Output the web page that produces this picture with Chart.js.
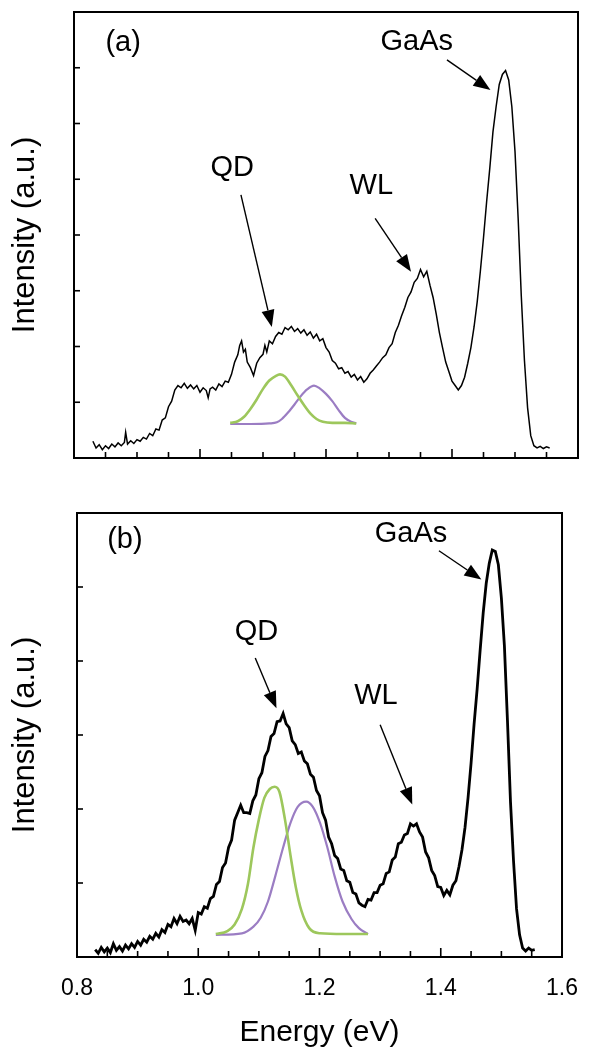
<!DOCTYPE html>
<html>
<head>
<meta charset="utf-8">
<script src="https://cdn.jsdelivr.net/npm/chart.js@4.4.0/dist/chart.umd.min.js"></script>
<style>
html,body{margin:0;padding:0;background:#fff;width:596px;height:1053px;overflow:hidden}
#wa{position:absolute;left:0;top:0;width:596px;height:480px}
#wb{position:absolute;left:0;top:490px;width:596px;height:563px}
</style>
</head>
<body>
<div id="wa"><canvas id="ca"></canvas></div>
<div id="wb"><canvas id="cb"></canvas></div>
<script>
// ---------- DATA ----------
const energyA = [
0.830,0.835,0.840,0.845,0.850,0.855,0.860,0.865,0.870,0.875,
0.880,0.882,0.885,0.890,0.895,0.900,0.905,0.910,0.915,0.920,
0.925,0.930,0.935,0.940,0.945,0.950,0.955,0.960,0.965,0.970,
0.975,0.980,0.985,0.990,0.995,1.000,1.005,1.010,1.013,1.016,
1.020,1.025,1.030,1.035,1.040,1.045,1.050,1.055,1.060,1.063,
1.066,1.069,1.072,1.075,1.080,1.085,1.090,1.095,1.100,1.103,
1.106,1.110,1.115,1.120,1.125,1.130,1.135,1.140,1.145,1.150,
1.155,1.160,1.165,1.170,1.175,1.180,1.185,1.190,1.195,1.200,
1.205,1.210,1.215,1.220,1.225,1.230,1.235,1.240,1.245,1.250,
1.255,1.260,1.265,1.270,1.275,1.280,1.285,1.290,1.295,1.300,
1.305,1.310,1.315,1.320,1.325,1.330,1.335,1.340,1.345,1.350,
1.355,1.360,1.365,1.370,1.375,1.380,1.385,1.390,1.395,1.400,
1.405,1.410,1.415,1.420,1.425,1.430,1.435,1.440,1.445,1.450,
1.455,1.460,1.465,1.470,1.475,1.480,1.485,1.490,1.495,1.500,
1.505,1.510,1.515,1.520,1.525,1.530,1.535,1.540,1.545,1.550,
1.555];
const intensityA = [
0.30,0.18,0.24,0.15,0.22,0.17,0.25,0.20,0.27,0.22,
0.28,0.46,0.25,0.31,0.26,0.33,0.30,0.37,0.34,0.44,
0.40,0.52,0.50,0.68,0.72,0.92,1.02,1.22,1.30,1.26,
1.34,1.25,1.31,1.24,1.30,1.18,1.26,1.21,1.08,1.24,
1.27,1.22,1.33,1.28,1.38,1.36,1.50,1.72,1.85,2.02,
2.10,1.90,1.95,1.72,1.62,1.48,1.70,1.80,1.86,2.02,
1.90,2.10,2.05,2.18,2.25,2.22,2.34,2.30,2.36,2.27,
2.32,2.24,2.30,2.20,2.26,2.15,2.22,2.10,2.14,1.98,
1.90,1.75,1.70,1.60,1.62,1.52,1.55,1.45,1.50,1.40,
1.46,1.36,1.42,1.52,1.58,1.65,1.72,1.80,1.85,1.98,
2.05,2.25,2.38,2.55,2.70,2.88,2.98,3.15,3.22,3.38,
3.25,3.35,3.10,2.88,2.58,2.25,1.98,1.72,1.55,1.38,
1.30,1.22,1.30,1.45,1.70,1.98,2.35,2.80,3.35,3.95,
4.60,5.20,5.85,6.30,6.70,6.88,6.95,6.78,6.30,5.50,
4.30,2.90,1.75,0.90,0.40,0.22,0.18,0.21,0.17,0.20,
0.18];

const energyB = [
0.830,0.835,0.840,0.845,0.850,0.855,0.860,0.865,0.870,0.875,
0.880,0.885,0.890,0.895,0.900,0.905,0.910,0.915,0.920,0.925,
0.930,0.935,0.940,0.945,0.950,0.955,0.960,0.965,0.970,0.975,
0.980,0.985,0.990,0.995,1.000,1.005,1.010,1.015,1.020,1.025,
1.030,1.035,1.040,1.045,1.050,1.055,1.060,1.065,1.070,1.075,
1.080,1.085,1.090,1.095,1.100,1.105,1.110,1.115,1.120,1.125,
1.130,1.135,1.140,1.145,1.150,1.155,1.160,1.165,1.170,1.175,
1.180,1.185,1.190,1.195,1.200,1.205,1.210,1.215,1.220,1.225,
1.230,1.235,1.240,1.245,1.250,1.255,1.260,1.265,1.270,1.275,
1.280,1.285,1.290,1.295,1.300,1.305,1.310,1.315,1.320,1.325,
1.330,1.335,1.340,1.345,1.350,1.355,1.360,1.365,1.370,1.375,
1.380,1.385,1.390,1.395,1.400,1.405,1.410,1.415,1.420,1.425,
1.430,1.435,1.440,1.445,1.450,1.455,1.460,1.465,1.470,1.475,
1.480,1.485,1.490,1.495,1.500,1.505,1.510,1.515,1.520,1.525,
1.530,1.535,1.540,1.545,1.550,1.555];
const intensityB = [
0.10,0.05,0.13,0.07,0.12,0.06,0.18,0.09,0.14,0.08,
0.16,0.11,0.18,0.13,0.21,0.16,0.24,0.20,0.28,0.24,
0.32,0.27,0.37,0.33,0.44,0.41,0.52,0.45,0.55,0.48,
0.50,0.45,0.52,0.36,0.60,0.58,0.68,0.66,0.79,0.82,
0.98,1.02,1.21,1.27,1.48,1.58,1.85,1.95,2.05,1.95,
1.95,1.94,2.11,2.19,2.41,2.49,2.71,2.79,2.98,3.02,
3.18,3.19,3.29,3.15,3.10,2.92,2.87,2.75,2.77,2.65,
2.61,2.47,2.43,2.25,2.18,1.95,1.85,1.62,1.53,1.37,
1.33,1.19,1.17,1.03,1.01,0.87,0.85,0.73,0.70,0.68,
0.78,0.77,0.87,0.87,0.97,0.99,1.13,1.15,1.31,1.35,
1.53,1.55,1.65,1.67,1.80,1.77,1.80,1.69,1.62,1.42,
1.34,1.17,1.10,0.95,0.94,0.83,0.90,0.84,0.97,1.03,
1.22,1.45,1.75,2.15,2.62,3.15,3.62,4.15,4.65,5.05,
5.32,5.50,5.48,5.30,4.85,4.20,3.20,2.10,1.30,0.65,
0.30,0.12,0.08,0.12,0.09,0.10];

// Gaussian fit components
const greenA_E = [1.048,1.060,1.070,1.080,1.090,1.100,1.110,1.120,1.127,1.135,1.145,1.155,1.165,1.175,1.185,1.195,1.210,1.230,1.248];
const greenA_I = [0.63,0.66,0.74,0.88,1.05,1.24,1.39,1.47,1.50,1.46,1.30,1.12,0.95,0.80,0.70,0.65,0.63,0.63,0.62];
const purpleA_E = [1.048,1.080,1.110,1.122,1.130,1.140,1.150,1.160,1.170,1.181,1.190,1.200,1.210,1.220,1.230,1.240,1.248];
const purpleA_I = [0.61,0.61,0.62,0.64,0.70,0.82,0.96,1.11,1.23,1.30,1.25,1.15,1.02,0.86,0.72,0.65,0.62];
const greenB_E = [1.029,1.048,1.060,1.072,1.082,1.091,1.100,1.109,1.118,1.126,1.134,1.143,1.152,1.161,1.170,1.183,1.201,1.240,1.280];
const greenB_I = [0.31,0.35,0.44,0.65,0.99,1.48,1.86,2.15,2.27,2.30,2.23,1.86,1.38,0.94,0.63,0.39,0.32,0.31,0.31];
const purpleB_E = [1.029,1.072,1.091,1.103,1.115,1.127,1.140,1.152,1.164,1.178,1.189,1.201,1.213,1.225,1.238,1.253,1.265,1.280];
const purpleB_I = [0.30,0.32,0.41,0.53,0.75,1.09,1.48,1.81,2.03,2.10,2.03,1.81,1.48,1.09,0.75,0.51,0.39,0.31];

// Axes / ticks
const xRange = [0.8, 1.6];
const xMajorTicks = [0.8, 1.0, 1.2, 1.4, 1.6];
const xMinorTicks = [0.85,0.9,0.95,1.05,1.1,1.15,1.25,1.3,1.35,1.45,1.5,1.55];
const yTicksA = [1,2,3,4,5,6,7];
const yTicksB = [1,2,3,4,5];
const yMaxA = 8, yMaxB = 6;

// Annotations (data coordinates)
const notesA = {
  labels: [{t:'(a)',x:0.878,y:7.44},{t:'GaAs',x:1.344,y:7.47},{t:'QD',x:1.051,y:5.20},{t:'WL',x:1.272,y:4.87}],
  arrows: [{x0:1.392,y0:7.14,x1:1.461,y1:6.60},{x0:1.065,y0:4.72,x1:1.114,y1:2.35},{x0:1.278,y0:4.30,x1:1.335,y1:3.34}]
};
const notesB = {
  labels: [{t:'(b)',x:0.879,y:5.64},{t:'GaAs',x:1.351,y:5.71},{t:'QD',x:1.096,y:4.39},{t:'WL',x:1.293,y:3.53}],
  arrows: [{x0:1.397,y0:5.49,x1:1.467,y1:5.10},{x0:1.094,y0:4.04,x1:1.129,y1:3.36},{x0:1.300,y0:3.14,x1:1.353,y1:2.06}]
};

const FONT = "'Liberation Sans', Arial, Helvetica, sans-serif";
const GREEN = '#9DC75C';
const PURPLE = '#9B7DC3';

const toXY = (xs, ys) => xs.map((v, i) => ({x: v, y: ys[i]}));

// ---------- PLUGINS ----------
const framePlugin = {
  id: 'frameTicks',
  afterDraw(chart, args, opts) {
    const {ctx, chartArea: {left, right, top, bottom}, scales: {x, y}} = chart;
    ctx.save();
    ctx.strokeStyle = '#000';
    ctx.lineWidth = 1.6;
    const seg = (a, b, c, d) => { ctx.beginPath(); ctx.moveTo(a, b); ctx.lineTo(c, d); ctx.stroke(); };
    xMinorTicks.forEach(v => { const p = x.getPixelForValue(v); seg(p, bottom, p, bottom - 6); });
    xMajorTicks.forEach(v => { const p = x.getPixelForValue(v); seg(p, bottom, p, bottom - 9); });
    opts.yTicks.forEach(v => { const p = y.getPixelForValue(v); seg(left, p, left + 6, p); });
    ctx.lineWidth = 2;
    ctx.strokeRect(left, top, right - left, bottom - top);
    ctx.restore();
  }
};

const notesPlugin = {
  id: 'peakNotes',
  afterDatasetsDraw(chart, args, opts) {
    const {ctx, scales: {x, y}} = chart;
    ctx.save();
    ctx.fillStyle = '#000';
    ctx.strokeStyle = '#000';
    ctx.font = opts.size + 'px ' + FONT;
    ctx.textAlign = 'center';
    ctx.textBaseline = 'middle';
    opts.labels.forEach(l => ctx.fillText(l.t, x.getPixelForValue(l.x), y.getPixelForValue(l.y)));
    opts.arrows.forEach(a => {
      const x0 = x.getPixelForValue(a.x0), y0 = y.getPixelForValue(a.y0);
      const x1 = x.getPixelForValue(a.x1), y1 = y.getPixelForValue(a.y1);
      const ang = Math.atan2(y1 - y0, x1 - x0);
      const hl = 17, hw = 6.5;
      const bx = x1 - hl * Math.cos(ang), by = y1 - hl * Math.sin(ang);
      ctx.lineWidth = 1.4;
      ctx.beginPath(); ctx.moveTo(x0, y0); ctx.lineTo(bx, by); ctx.stroke();
      ctx.beginPath();
      ctx.moveTo(x1, y1);
      ctx.lineTo(bx + hw * Math.sin(ang), by - hw * Math.cos(ang));
      ctx.lineTo(bx - hw * Math.sin(ang), by + hw * Math.cos(ang));
      ctx.closePath();
      ctx.fill();
    });
    ctx.restore();
  }
};

function makeChart(id, cfg) {
  return new Chart(document.getElementById(id), {
    type: 'line',
    data: {
      datasets: [
        {data: toXY(cfg.gE, cfg.gI), borderColor: GREEN, borderWidth: 2.6, pointRadius: 0, tension: 0.35, cubicInterpolationMode: 'monotone'},
        {data: toXY(cfg.pE, cfg.pI), borderColor: PURPLE, borderWidth: 2.2, pointRadius: 0, tension: 0.35, cubicInterpolationMode: 'monotone'},
        {data: toXY(cfg.sE, cfg.sI), borderColor: '#000', borderWidth: cfg.lw, pointRadius: 0, tension: 0}
      ]
    },
    options: {
      responsive: true,
      maintainAspectRatio: false,
      animation: false,
      devicePixelRatio: 1,
      layout: {padding: {top: cfg.padTop, right: cfg.padRight, bottom: 0, left: 0}},
      plugins: {
        legend: {display: false},
        tooltip: {enabled: false},
        frameTicks: {yTicks: cfg.yTicks},
        peakNotes: {labels: cfg.notes.labels, arrows: cfg.notes.arrows, size: 29}
      },
      scales: {
        x: {
          type: 'linear', min: xRange[0], max: xRange[1],
          grid: {display: false, drawTicks: false},
          border: {display: false},
          ticks: {
            display: cfg.showX, stepSize: 0.2, padding: 18, color: '#000',
            font: {family: FONT, size: 23},
            callback: v => Number(v).toFixed(1)
          },
          title: {display: cfg.showX, text: 'Energy (eV)', color: '#000', font: {family: FONT, size: 30, lineHeight: 1}, padding: {top: 0, bottom: 5}},
          afterFit: s => { s.height = cfg.xH; }
        },
        y: {
          min: 0, max: cfg.yMax,
          grid: {display: false, drawTicks: false},
          border: {display: false},
          ticks: {display: false},
          title: {display: true, text: 'Intensity (a.u.)', color: '#000', font: {family: FONT, size: 31, lineHeight: 1.2}, padding: {top: 7, bottom: 0}},
          afterFit: s => { s.width = cfg.yW; }
        }
      }
    },
    plugins: [framePlugin, notesPlugin]
  });
}

makeChart('ca', {sE: energyA, sI: intensityA, gE: greenA_E, gI: greenA_I, pE: purpleA_E, pI: purpleA_I,
  lw: 1.5, yMax: yMaxA, yTicks: yTicksA, notes: notesA, padTop: 12, padRight: 18, xH: 22, yW: 74, showX: false});
makeChart('cb', {sE: energyB, sI: intensityB, gE: greenB_E, gI: greenB_I, pE: purpleB_E, pI: purpleB_I,
  lw: 2.8, yMax: yMaxB, yTicks: yTicksB, notes: notesB, padTop: 23, padRight: 20, xH: 96, yW: 77, showX: true});
</script>
</body>
</html>
